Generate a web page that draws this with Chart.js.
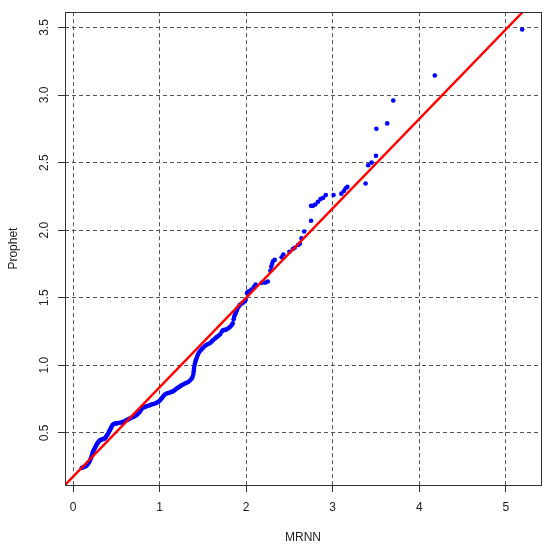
<!DOCTYPE html>
<html><head><meta charset="utf-8">
<script src="https://cdn.jsdelivr.net/npm/chart.js@4/dist/chart.umd.min.js"></script>
<style>html,body{margin:0;padding:0;background:#fff;}canvas{display:block;}</style>
</head><body>
<canvas id="c" width="550" height="549"></canvas>
<script>
// Q-Q sample quantiles
const mrnn = [
0.100,0.115,0.130,0.145,0.155,0.165,0.175,0.185,0.195,0.205,0.213,0.220,0.226,0.231,0.240,0.250,0.258,0.266,0.275,0.283,
0.292,0.302,0.312,0.325,0.338,0.352,0.367,0.380,0.393,0.405,0.415,0.425,0.435,0.445,0.456,0.470,0.485,0.500,0.515,0.530,
0.545,0.560,0.575,0.590,0.605,0.620,0.635,0.650,0.665,0.680,0.695,0.710,0.725,0.741,0.755,0.770,0.782,0.795,0.810,0.829,
0.848,0.868,0.888,0.907,0.925,0.945,0.965,0.983,1.000,1.015,1.030,1.045,1.060,1.080,1.100,1.119,1.138,1.157,1.175,1.196,
1.212,1.226,1.240,1.254,1.272,1.292,1.310,1.330,1.350,1.370,1.382,1.390,1.394,1.397,1.402,1.408,1.414,1.420,1.430,1.440,
1.455,1.470,1.485,1.500,1.520,1.540,1.560,1.580,1.600,1.620,1.640,1.660,1.680,1.700,1.720,1.735,1.755,1.770,1.790,1.810,
1.830,1.845,1.855,1.862,1.872,1.882,1.895,1.910,1.925,1.945,1.962,1.980,1.995,2.010,2.025,2.040,2.060,2.090,2.110,2.180,
2.220,2.250,2.280,2.290,2.300,2.310,2.330,2.410,2.430,2.500,2.540,2.560,2.600,2.620,2.640,2.670,2.750,2.750,2.770,2.800,
2.830,2.860,2.890,2.920,3.010,3.100,3.130,3.150,3.170,3.380,3.410,3.450,3.500,3.505,3.630,3.700,4.180,5.190
];
const prophet = [
0.240,0.245,0.250,0.252,0.258,0.266,0.274,0.282,0.295,0.310,0.323,0.337,0.350,0.360,0.373,0.385,0.395,0.405,0.416,0.425,
0.432,0.440,0.445,0.448,0.452,0.455,0.459,0.470,0.483,0.495,0.507,0.520,0.533,0.546,0.557,0.565,0.568,0.570,0.572,0.573,
0.575,0.578,0.580,0.584,0.590,0.595,0.598,0.604,0.609,0.613,0.617,0.622,0.628,0.636,0.645,0.655,0.668,0.680,0.686,0.692,
0.696,0.700,0.705,0.710,0.713,0.717,0.722,0.729,0.738,0.748,0.760,0.772,0.783,0.791,0.795,0.798,0.803,0.808,0.816,0.828,
0.833,0.839,0.846,0.852,0.858,0.865,0.870,0.876,0.887,0.901,0.915,0.935,0.955,0.975,0.995,1.012,1.028,1.040,1.055,1.075,
1.095,1.108,1.118,1.128,1.140,1.150,1.157,1.163,1.175,1.187,1.198,1.208,1.218,1.230,1.250,1.260,1.262,1.264,1.272,1.282,
1.295,1.310,1.340,1.360,1.375,1.390,1.410,1.430,1.445,1.455,1.462,1.472,1.485,1.535,1.545,1.550,1.560,1.580,1.597,1.610,
1.612,1.620,1.700,1.730,1.750,1.770,1.780,1.800,1.820,1.840,1.860,1.870,1.890,1.900,1.940,1.990,2.070,2.180,2.180,2.190,
2.210,2.230,2.240,2.260,2.260,2.270,2.290,2.310,2.320,2.345,2.480,2.500,2.550,2.750,2.790,2.960,3.145,3.485
];
const xTickValues = [0, 1, 2, 3, 4, 5];
const xTickLabels = ['0', '1', '2', '3', '4', '5'];
const yTickValues = [0.5, 1.0, 1.5, 2.0, 2.5, 3.0, 3.5];
const yTickLabels = ['0.5', '1.0', '1.5', '2.0', '2.5', '3.0', '3.5'];
const xRange = [-0.093, 5.407];
const yRange = [0.114, 3.613];
const refIntercept = 0.175;
const refSlope = 0.662;

const points = mrnn.map((x, i) => ({x: x, y: prophet[i]}));
const refLine = xRange.map(x => ({x: x, y: refIntercept + refSlope * x}));

const FONT = {family: "'Liberation Sans', Arial, sans-serif", size: 12};
const TXT = '#222';

const boxPlugin = {
  id: 'box',
  afterDraw(chart) {
    const a = chart.chartArea, ctx = chart.ctx;
    ctx.save();
    ctx.strokeStyle = '#333';
    ctx.lineWidth = 1;
    ctx.strokeRect(Math.round(a.left) + 0.5, Math.round(a.top) + 0.5, Math.round(a.right - a.left), Math.round(a.bottom - a.top));
    ctx.restore();
  }
};

new Chart(document.getElementById('c'), {
  type: 'scatter',
  data: {
    datasets: [
      {type: 'line', data: refLine, borderColor: '#ff0000', borderWidth: 2.4, pointRadius: 0, fill: false, order: 0},
      {data: points, backgroundColor: '#0000ff', borderWidth: 0, pointRadius: 2.3, pointHoverRadius: 2.3, order: 1}
    ]
  },
  options: {
    responsive: false,
    animation: false,
    devicePixelRatio: 1,
    layout: {padding: {top: 11, right: 9, left: 0, bottom: 0}},
    plugins: {legend: {display: false}, tooltip: {enabled: false}},
    scales: {
      x: {
        type: 'linear', min: xRange[0], max: xRange[1],
        afterBuildTicks: s => { s.ticks = xTickValues.map(v => ({value: v})); },
        afterFit: s => { s.height = 64; },
        ticks: {callback: (v, i) => xTickLabels[i], font: FONT, color: TXT, padding: 8, maxRotation: 0},
        grid: {color: '#555', lineWidth: 1, drawTicks: true, tickLength: 7, tickColor: '#333', tickWidth: 1},
        border: {display: false, dash: [4, 3]},
        title: {display: true, text: 'MRNN', font: FONT, color: TXT, padding: {top: 0, bottom: 4}}
      },
      y: {
        type: 'linear', min: yRange[0], max: yRange[1],
        afterBuildTicks: s => { s.ticks = yTickValues.map(v => ({value: v})); },
        afterFit: s => { s.width = 65; },
        ticks: {callback: (v, i) => yTickLabels[i], font: FONT, color: TXT, padding: 5, minRotation: 90, maxRotation: 90, crossAlign: 'center'},
        grid: {color: '#555', lineWidth: 1, drawTicks: true, tickLength: 7, tickColor: '#333', tickWidth: 1},
        border: {display: false, dash: [4, 3]},
        title: {display: true, text: 'Prophet', font: FONT, color: TXT, padding: {top: 6, bottom: 0}}
      }
    }
  },
  plugins: [boxPlugin]
});
</script>
</body></html>
